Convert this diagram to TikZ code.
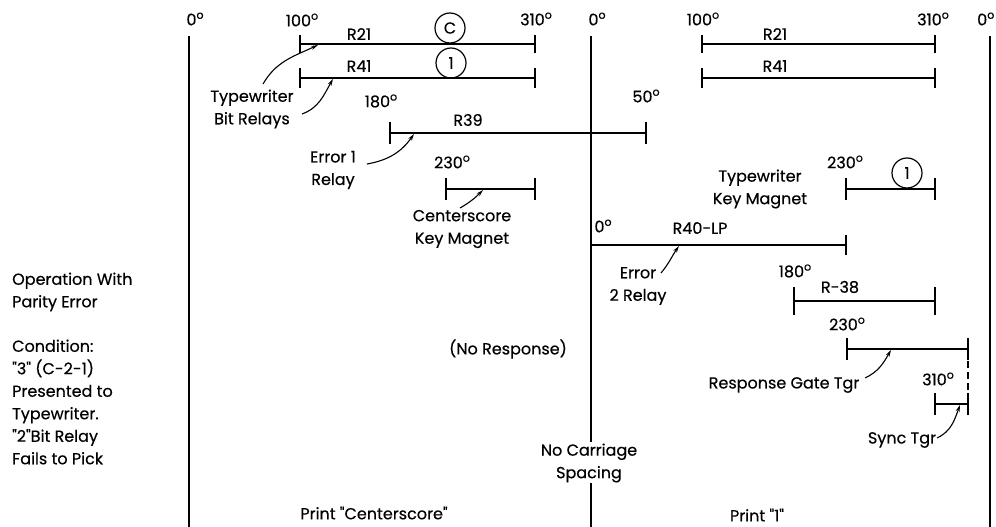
\documentclass[tikz,border=0pt]{standalone}
\usepackage{fontspec}
\setmainfont{Poppins}[Ligatures=TeXOff, FakeBold=0.4]
\usetikzlibrary{arrows.meta}
\newcommand\tbar[4]{%
  \draw[tl] (#1,#3)--(#2,#3);
  \draw[tl] (#1,#3-#4)--(#1,#3+#4);
  \draw[tl] (#2,#3-#4)--(#2,#3+#4);}
\newcommand\dg{\raisebox{0.75ex}{\fontsize{11}{11}\selectfont o}}
\begin{document}
\begin{tikzpicture}[x=1pt,y=-1pt,
  every node/.style={font=\fontsize{16}{22.5}\selectfont, inner sep=0pt},
  tl/.style={line width=1.6pt},
  cyc/.style={line width=1.8pt},
  leader/.style={line width=1.1pt, -{Stealth[length=7pt,width=4pt]}},
  circ/.style={draw, circle, line width=1.2pt, minimum size=30pt, inner sep=0pt},
  txt/.style={align=center},
  ltxt/.style={align=left, anchor=west}
]
\useasboundingbox (0,0) rectangle (996,527);
% cycle lines
\draw[cyc] (189,36) -- (189,527);
\draw[cyc] (591,36) -- (591,442);
\draw[cyc] (591,483) -- (591,527);
\draw[cyc] (990,36) -- (990,527);
% degree labels on top
\node (d0a) at (195,19) {0\dg};
\node (d100a) at (302,20) {100\dg};
\node (d310a) at (536,19) {310\dg};
\node (d0b) at (597,19) {0\dg};
\node (d100b) at (703,19) {100\dg};
\node (d310b) at (933,19) {310\dg};
\node[anchor=west] (d0c) at (977,19) {0\dg};
% bars
\tbar{300}{535}{44}{9}
\tbar{300}{535}{78}{10}
\tbar{702}{935}{44}{9}
\tbar{702}{935}{78}{10}
\tbar{390}{646}{133}{11}
\tbar{446}{535}{189}{11}
\tbar{846}{935}{189}{11}
\tbar{591}{846}{245}{10}
\tbar{794}{935}{301}{14}
\tbar{847}{968}{349}{11}
\tbar{935}{968}{404}{11}
\draw[tl, dash pattern=on 7pt off 4pt] (968,361) -- (968,393);
% bar labels
\node (r21a) at (359,34) {R21};
\node (r41a) at (359,66) {R41};
\node (r21b) at (775,34) {R21};
\node (r41b) at (775,66) {R41};
\node[circ] (cc) at (450,28) {C};
\node[circ] (c1) at (451,63) {1};
\node[circ] (c1b) at (907,173) {1};
\node (d180a) at (381,101) {180\dg};
\node (r39) at (468,120) {R39};
\node (d50) at (646,96) {50\dg};
\node (d230a) at (452,162) {230\dg};
\node (d230b) at (845,162) {230\dg};
\node (d0r40) at (603,226) {0\dg};
\node (r40) at (700,228) {R40-LP};
\node (d180b) at (795,271) {180\dg};
\node (r38) at (840,287) {R-38};
\node (d230c) at (847,324) {230\dg};
\node (d310c) at (938,379) {310\dg};
% descriptive texts
\node[txt] (tbr) at (252,109) {Typewriter\\Bit Relays};
\node[txt] (e1r) at (333,170) {Error 1\\Relay};
\node[txt] (ckm) at (462,229) {Centerscore\\Key Magnet};
\node[txt] (tkm) at (760,189) {Typewriter\\Key Magnet};
\node[txt] (e2r) at (638,286) {Error\\2 Relay};
\node (rgt) at (784,385) {Response Gate Tgr};
\node (syn) at (902,440) {Sync Tgr};
\node (nor) at (508,349) {(No Response)};
\node[txt] (ncs) at (589,463) {No Carriage\\Spacing};
\node (pcs) at (374,513) {Print "Centerscore"};
\node (p1) at (757,515) {Print "1"};
\node[ltxt] (op) at (12,292) {Operation With\\Parity Error};
\node[ltxt] (cond) at (12,402) {Condition:\\"3" (C-2-1)\\Presented to\\Typewriter.\\"2"Bit Relay\\Fails to Pick};
% leader coordinates
\coordinate (l1s) at (263,84);  \coordinate (l1e) at (318,45);
\coordinate (l2s) at (302,114); \coordinate (l2e) at (333,79);
\coordinate (l3s) at (367,164); \coordinate (l3e) at (414,134);
\coordinate (l4s) at (460,208); \coordinate (l4e) at (483,190);
\coordinate (l5s) at (661,273); \coordinate (l5e) at (679,246);
\coordinate (l6s) at (865,378); \coordinate (l6e) at (891,350);
\coordinate (l7s) at (937,438); \coordinate (l7e) at (960,405);
\draw[leader] (l1s) to[out=60,in=205] (l1e);
\draw[leader] (l2s) to[out=20,in=240] (l2e);
\draw[leader] (l3s) to[out=10,in=235] (l3e);
\draw[leader] (l4s) to[out=30,in=225] (l4e);
\draw[leader] (l5s) to[out=50,in=235] (l5e);
\draw[leader] (l6s) to[out=25,in=240] (l6e);
\draw[leader] (l7s) to[out=25,in=250] (l7e);
\end{tikzpicture}
\end{document}
